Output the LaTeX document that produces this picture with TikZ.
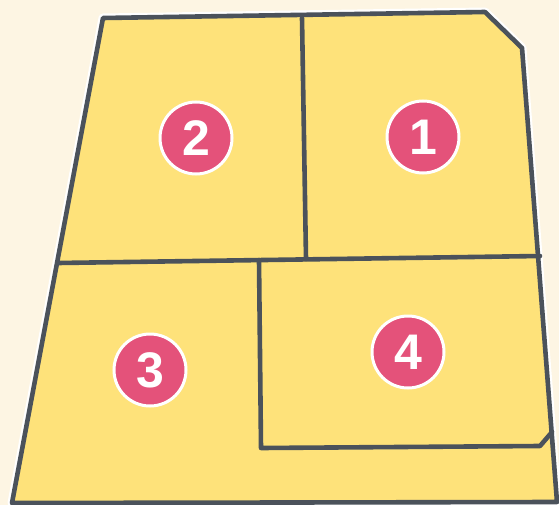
\documentclass[tikz,border=0pt]{standalone}
\usepackage{fontspec}
\setmainfont{Liberation Sans}
\definecolor{bg}{HTML}{FDF5E3}
\definecolor{lot}{HTML}{FEE27A}
\definecolor{edge}{HTML}{4B525B}
\definecolor{badge}{HTML}{E4527A}
\begin{document}
\begin{tikzpicture}[x=1pt,y=-1pt,
  border/.style={draw=edge,line width=4.6pt,line join=round,line cap=round},
  numbadge/.style={circle,fill=badge,draw=white,line width=3pt,minimum size=72pt,inner sep=0pt,
    text=white,font=\fontsize{50}{50}\selectfont\bfseries}]
\fill[bg] (0,0) rectangle (559,505);
\useasboundingbox (0,0) rectangle (559,505);
% outer lot
\coordinate (tl) at (103,18);
\coordinate (tr) at (485,12);
\coordinate (tc) at (522,48);
\coordinate (br) at (557,502);
\coordinate (bl) at (12,503);
\draw[white,line width=9pt,line join=round] (tl) -- (tr) -- (tc) -- (br) -- (bl) -- cycle;
\fill[lot] (tl) -- (tr) -- (tc) -- (br) -- (bl) -- cycle;
% inner lines
\coordinate (vt) at (302,18);
\coordinate (vb) at (306,259);
\coordinate (hl) at (58,263);
\coordinate (hr) at (540,256);
\coordinate (d4t) at (259,260);
\coordinate (d4b) at (261,448);
\coordinate (d4r) at (540,446);
\coordinate (d4e) at (552,432);
\draw[border] (vt) -- (vb);
\draw[border] (hl) -- (hr);
\draw[border] (d4t) -- (d4b) -- (d4r) -- (d4e);
\draw[border] (tl) -- (tr) -- (tc) -- (br) -- (bl) -- cycle;
% badges
\node[numbadge] (n2) at (196,138) {2};
\node[numbadge] (n1) at (423,137) {1};
\node[numbadge] (n3) at (150,370) {3};
\node[numbadge] (n4) at (408,352) {4};
\end{tikzpicture}
\end{document}
